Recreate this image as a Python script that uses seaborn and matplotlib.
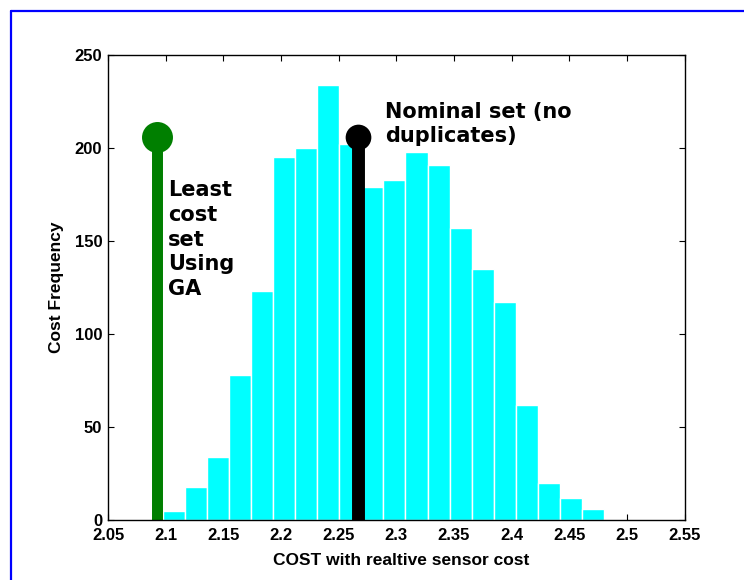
import numpy as np
import pandas as pd
import matplotlib
matplotlib.use("Agg")
import matplotlib.pyplot as plt
import seaborn as sns
from matplotlib.lines import Line2D

# ---- data ----
counts = [5, 18, 34, 78, 123, 195, 200, 234, 202, 179,
          183, 198, 191, 157, 135, 117, 62, 20, 12, 6]
bin_low = 2.0979
bin_high = 2.4797
ga_cost = 2.0926
nominal_cost = 2.2663
stem_height = 206
xticks = [2.05, 2.1, 2.15, 2.2, 2.25, 2.3, 2.35, 2.4, 2.45, 2.5, 2.55]
xtick_labels = ["2.05", "2.1", "2.15", "2.2", "2.25", "2.3", "2.35", "2.4", "2.45", "2.5", "2.55"]
yticks = [0, 50, 100, 150, 200, 250]
ga_label = "Least\ncost\nset\nUsing\nGA"
nominal_label = "Nominal set (no\nduplicates)"
xlabel = "COST with realtive sensor cost"
ylabel = "Cost Frequency"

edges = [float(e) for e in np.linspace(bin_low, bin_high, len(counts) + 1)]
centers = [(a + b) / 2 for a, b in zip(edges[:-1], edges[1:])]
df = pd.DataFrame({"cost": centers, "freq": counts})

sns.set_theme(style="ticks")
plt.rcParams["font.family"] = ["Liberation Sans", "DejaVu Sans"]
plt.rcParams["font.weight"] = "bold"
plt.rcParams["text.color"] = "black"

fig = plt.figure(figsize=(7.44, 5.8), dpi=100)
ax = fig.add_axes([108.1 / 744, 1 - 520 / 580, 576.6 / 744, 465 / 580])

sns.histplot(data=df, x="cost", weights="freq", bins=edges, color="#00FFFF",
             edgecolor="white", linewidth=1.0, alpha=1.0, ax=ax, zorder=2)

# stems
ax.plot([ga_cost, ga_cost], [0, stem_height], color="#007F00", lw=7.9,
        solid_capstyle="butt", zorder=3)
ax.plot([ga_cost], [stem_height], marker="o", color="#007F00", markersize=22.3,
        markeredgewidth=0, zorder=4, clip_on=False)
ax.plot([nominal_cost, nominal_cost], [0, stem_height], color="black", lw=9.3,
        solid_capstyle="butt", zorder=3)
ax.plot([nominal_cost], [stem_height], marker="o", color="black", markersize=18.5,
        markeredgewidth=0, zorder=4, clip_on=False)

ax.text(2.1022, 183.0, ga_label, fontsize=15, fontweight="bold", color="black",
        family=["DejaVu Sans"], ha="left", va="top", linespacing=1.31, zorder=5)
ax.text(2.2905, 224.5, nominal_label, fontsize=15, fontweight="bold", color="black",
        family=["DejaVu Sans"], ha="left", va="top", linespacing=1.2, zorder=5)

ax.set_xlim(2.05, 2.55)
ax.set_ylim(0, 250)
ax.set_xticks(xticks)
ax.set_xticklabels(xtick_labels)
ax.set_yticks(yticks)

ax.tick_params(axis="both", which="both", direction="in", length=4, width=0.8,
               color="black", labelsize=12, top=True, right=True,
               labelcolor="black")
ax.tick_params(axis="x", pad=5.5)
ax.tick_params(axis="y", pad=4.3)
for lab in ax.get_xticklabels() + ax.get_yticklabels():
    lab.set_fontweight("bold")

for s in ax.spines.values():
    s.set_visible(True)
    s.set_color("black")
    s.set_linewidth(1.0)
    s.set_zorder(6)

ax.set_xlabel(xlabel, fontsize=12.5, fontweight="bold", color="black")
ax.set_ylabel(ylabel, fontsize=12.5, fontweight="bold", color="black")
ax.xaxis.label.set_va("center")
ax.yaxis.label.set_va("center")
ax.xaxis.set_label_coords(0.509, -0.088)
ax.yaxis.set_label_coords(-0.09, 0.5)
ax.grid(False)

# blue figure frame
bx = 10.5 / 744
by = 1 - 10.5 / 580
fig.add_artist(Line2D([bx, bx], [-0.01, by], transform=fig.transFigure,
                      color="#0000FF", lw=1.6))
fig.add_artist(Line2D([bx, 1.01], [by, by], transform=fig.transFigure,
                      color="#0000FF", lw=1.6))

fig.savefig("out.png", dpi=100)
